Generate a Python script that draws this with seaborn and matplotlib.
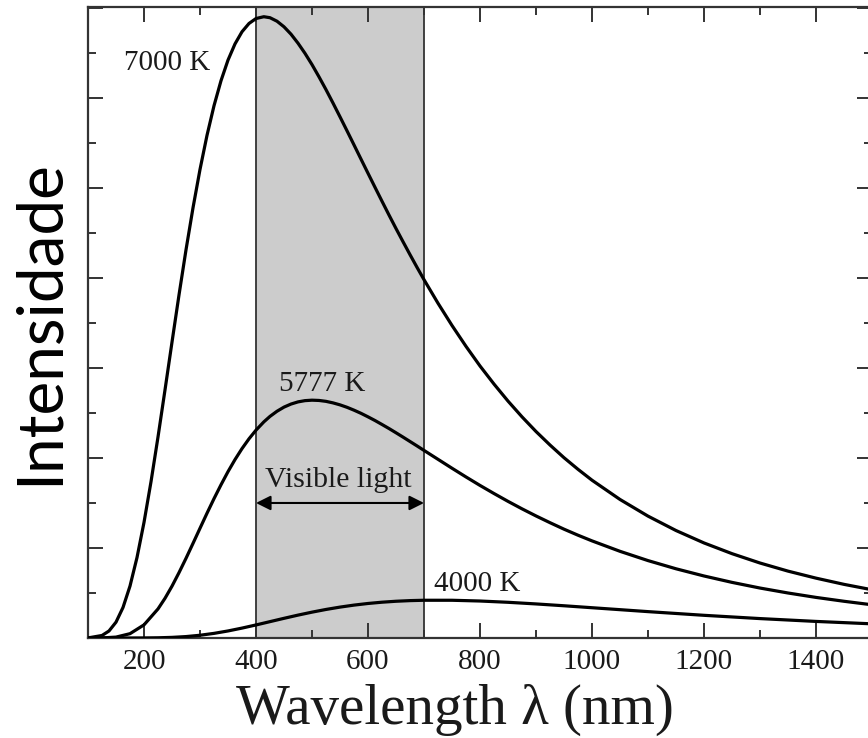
import matplotlib
matplotlib.use("Agg")
import matplotlib.pyplot as plt
from matplotlib.ticker import MultipleLocator, NullFormatter
import seaborn as sns
import pandas as pd

# ---- data ----
wl_7000 = [100, 125, 137.5, 150, 162.5, 175, 187.5, 200, 212.5, 225,
           237.5, 250, 262.5, 275, 287.5, 300, 312.5, 325, 337.5, 350,
           362.5, 375, 387.5, 400, 414, 425, 437.5, 450, 462.5, 475,
           487.5, 500, 512.5, 525, 537.5, 550, 562.5, 575, 587.5, 600,
           612.5, 625, 637.5, 650, 662.5, 675, 687.5, 700, 725, 750,
           775, 800, 825, 850, 875, 900, 925, 950, 975, 1000,
           1050, 1100, 1150, 1200, 1250, 1300, 1350, 1400, 1450, 1500]
i_7000 = [0.001, 0.028, 0.078, 0.176, 0.339, 0.577, 0.894, 1.284, 1.736, 2.233,
          2.756, 3.287, 3.811, 4.312, 4.779, 5.205, 5.584, 5.913, 6.191, 6.420,
          6.600, 6.735, 6.827, 6.882, 6.902, 6.891, 6.852, 6.790, 6.708, 6.608,
          6.495, 6.370, 6.234, 6.092, 5.943, 5.790, 5.635, 5.478, 5.320, 5.163,
          5.007, 4.852, 4.699, 4.549, 4.403, 4.259, 4.118, 3.981, 3.719, 3.472,
          3.240, 3.022, 2.821, 2.632, 2.457, 2.294, 2.144, 2.003, 1.874, 1.753,
          1.539, 1.354, 1.194, 1.056, 0.937, 0.833, 0.743, 0.665, 0.596, 0.536]

wl_5777 = [100, 125, 150, 175, 200, 225,
           237.5, 250, 262.5, 275, 287.5, 300, 312.5, 325, 337.5, 350,
           362.5, 375, 387.5, 400, 414, 425, 437.5, 450, 462.5, 475,
           487.5, 500, 512.5, 525, 537.5, 550, 562.5, 575, 587.5, 600,
           612.5, 625, 637.5, 650, 662.5, 675, 687.5, 700, 725, 750,
           775, 800, 825, 850, 875, 900, 925, 950, 975, 1000,
           1050, 1100, 1150, 1200, 1250, 1300, 1350, 1400, 1450, 1500]
i_5777 = [0.000, 0.001, 0.010, 0.048, 0.146, 0.323,
          0.441, 0.576, 0.726, 0.885, 1.051, 1.219, 1.386, 1.548, 1.702, 1.848,
          1.982, 2.104, 2.213, 2.309, 2.401, 2.462, 2.519, 2.565, 2.599, 2.623,
          2.637, 2.642, 2.639, 2.629, 2.612, 2.590, 2.563, 2.531, 2.496, 2.457,
          2.416, 2.372, 2.327, 2.280, 2.232, 2.183, 2.134, 2.084, 1.985, 1.886,
          1.789, 1.695, 1.605, 1.518, 1.435, 1.356, 1.281, 1.209, 1.142, 1.079,
          0.963, 0.860, 0.769, 0.689, 0.618, 0.555, 0.500, 0.451, 0.408, 0.369]

wl_4000 = [100, 125, 150, 175, 200, 225, 250, 275, 300, 325,
           350, 375, 400, 414, 425, 450, 475, 500, 525, 550,
           575, 600, 625, 650, 675, 700,
           750, 800, 850, 900, 950, 1000,
           1100, 1200, 1300, 1400, 1500]
i_4000 = [0.000, 0.000, 0.000, 0.0001, 0.0006, 0.0024, 0.0069, 0.0158, 0.0305, 0.0514,
          0.0783, 0.1100, 0.1450, 0.1655, 0.1818, 0.2186, 0.2542, 0.2872, 0.3171, 0.3432,
          0.3654, 0.3835, 0.3977, 0.4082, 0.4153, 0.4193,
          0.4192, 0.4109, 0.3967, 0.3785, 0.3581, 0.3364,
          0.2930, 0.2521, 0.2157, 0.1842, 0.1573]

curve_labels = ["7000 K", "5777 K", "4000 K"]
visible_band = [400, 700]
x_ticks = [200, 400, 600, 800, 1000, 1200, 1400]

df = pd.concat([
    pd.DataFrame({"wavelength": wl_7000, "intensity": i_7000, "T": curve_labels[0]}),
    pd.DataFrame({"wavelength": wl_5777, "intensity": i_5777, "T": curve_labels[1]}),
    pd.DataFrame({"wavelength": wl_4000, "intensity": i_4000, "T": curve_labels[2]}),
], ignore_index=True)

# ---- style ----
sns.set_theme(style="ticks")
plt.rcParams["font.family"] = ["Liberation Serif", "DejaVu Serif"]
spine_c = "#333333"
text_c = "#1a1a1a"

fig = plt.figure(figsize=(8.68, 7.38), dpi=100)
ax = fig.add_axes([88 / 868, 100 / 738, 784 / 868, 631 / 738])

ax.axvspan(visible_band[0], visible_band[1], facecolor="#cccccc",
           edgecolor=spine_c, linewidth=1.3, zorder=0)

sns.lineplot(data=df, x="wavelength", y="intensity", hue="T",
             palette=["black"] * 3, legend=False, estimator=None, sort=True,
             linewidth=2.3, ax=ax, zorder=3)

ax.set_xlim(100, 1500)
ax.set_ylim(0, 7.01)

ax.set_xticks(x_ticks)
ax.set_xticklabels([str(v) for v in x_ticks])
ax.xaxis.set_minor_locator(MultipleLocator(100))
ax.yaxis.set_major_locator(MultipleLocator(1))
ax.yaxis.set_minor_locator(MultipleLocator(0.5))
ax.yaxis.set_major_formatter(NullFormatter())

ax.tick_params(which="both", direction="in", top=True, right=True,
               color=spine_c, width=1.4)
ax.tick_params(which="major", length=11)
ax.tick_params(which="minor", length=6)
ax.tick_params(axis="x", which="major", labelsize=21, pad=8, labelcolor=text_c)
for s in ax.spines.values():
    s.set_color(spine_c)
    s.set_linewidth(1.6)

# labels
ax.set_xlabel("Wavelength λ (nm)", fontsize=41, family=["Liberation Serif", "DejaVu Serif"],
              color=text_c)
ax.xaxis.label.set_va("baseline")
ax.xaxis.set_label_coords((455 - 88) / 784, (638 - 724) / 631)

ax.set_ylabel("Intensidade", fontsize=46, family=["Lato", "DejaVu Sans"], color="black")
ax.yaxis.label.set_va("baseline")
ax.yaxis.set_label_coords((58 - 88) / 784, 0.5)

# curve annotations
ax.text(242, 6.31, curve_labels[0], ha="center", va="baseline", fontsize=21, color=text_c)
ax.text(518, 2.744, curve_labels[1], ha="center", va="baseline", fontsize=21, color=text_c)
ax.text(795, 0.522, curve_labels[2], ha="center", va="baseline", fontsize=21, color=text_c)
ax.text(547, 1.678, "Visible light", ha="center", va="baseline", fontsize=21.5, color=text_c)
ax.annotate("", xy=(visible_band[0], 1.5), xytext=(visible_band[1], 1.5),
            arrowprops=dict(arrowstyle="<|-|>", color="black", lw=1.5,
                            mutation_scale=22, shrinkA=0, shrinkB=0))

fig.savefig("out.png", dpi=100)
